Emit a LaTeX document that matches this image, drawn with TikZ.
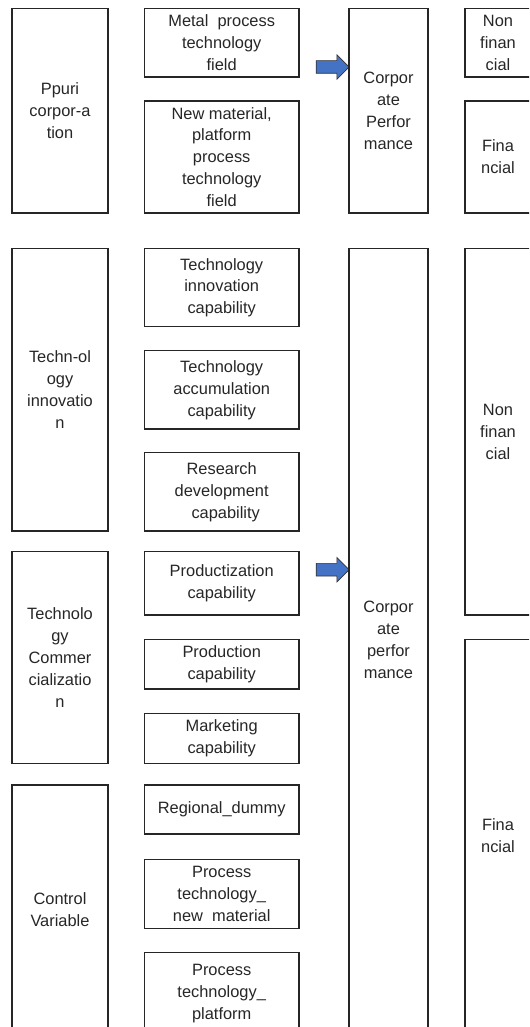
\documentclass[tikz,border=0pt]{standalone}
\usepackage{fontspec}
\setmainfont{Liberation Sans}
\usetikzlibrary{shapes.arrows}

\tikzset{
    box/.style={draw=black!85, line width=0.9pt, rectangle, align=center, inner sep=2pt,
        font=\fontsize{12.3}{16.4}\selectfont, text=black!85},
    lbox/.style={box, minimum width=72pt},
    mbox/.style={box, minimum width=115.9pt},
    cbox/.style={box, minimum width=59.25pt},
    rbox/.style={box, minimum width=49.5pt},
    blockarrow/.style={single arrow, draw=black!80, line width=0.5pt, fill=arrowblue,
        minimum height=24.75pt, single arrow head extend=4.5pt, inner sep=4.5pt}
}
\definecolor{arrowblue}{HTML}{4472C4}

\begin{document}
\begin{tikzpicture}[x=0.75pt, y=-0.75pt]
    \useasboundingbox (0,0) rectangle (529,1027);
    \clip (0,0) rectangle (529,1027);

    % Top block: the corporation
    \node[lbox, minimum height=153.5pt] (ppuri) at (60,110.7) {Ppuri\\corpor-a\\tion};
    \node[mbox, minimum height=51.5pt] (metal) at (221.7,42.7) {Metal\ \ process\\technology\\field};
    \node[mbox, minimum height=84pt] (newmat) at (221.7,157) {New material,\\platform\\process\\technology\\field};
    \node[blockarrow] (arr1) at (329.5,67) {};
    \node[cbox, minimum height=153.5pt] (corp1) at (388.5,110.7) {Corpor\\ate\\Perfor\\mance};
    \node[rbox, minimum height=51.5pt] (nonfin1) at (498,42.7) {Non\\finan\\cial};
    \node[rbox, minimum height=84pt] (fin1) at (498,157) {Fina\\ncial};

    % Left column: the groups
    \node[lbox, minimum height=211.8pt] (techinno) at (60,389.8) {Techn-ol\\ogy\\innovatio\\n};
    \node[lbox, minimum height=158.6pt] (techcomm) at (60,657.6) {Technolo\\gy\\Commer\\cializatio\\n};
    \node[lbox, minimum height=187.5pt] (control) at (60,910) {Control\\Variable};

    % Middle column: the capabilities
    \node[mbox, minimum height=58.7pt] (tic) at (221.7,287.7) {Technology\\innovation\\capability};
    \node[mbox, minimum height=58.7pt] (tac) at (221.7,389.9) {Technology\\accumulation\\capability};
    \node[mbox, minimum height=58.7pt] (rdc) at (221.7,491.9) {Research\\development\\\hspace*{6pt}capability};
    \node[mbox, minimum height=47.3pt] (prodz) at (221.7,583.4) {Productization\\capability};
    \node[mbox, minimum height=37.1pt] (prodn) at (221.7,664.3) {Production\\capability};
    \node[mbox, minimum height=37.1pt] (mkt) at (221.7,738.5) {Marketing\\capability};
    \node[mbox, minimum height=36.8pt] (regional) at (221.7,809.5) {Regional\_dummy};
    \node[mbox, minimum height=51.8pt] (ptnm) at (221.7,893.9) {Process\\technology\_\\new\ \ material};
    \node[mbox, minimum height=62pt] (ptp) at (221.7,993.9) {Process\\technology\_\\platform};

    % Right side: the performance
    \node[blockarrow] (arr2) at (329.5,569.7) {};
    \node[cbox, minimum height=586.8pt] (corp2) at (388.5,639.8) {Corpor\\ate\\perfor\\mance};
    \node[rbox, minimum height=274.7pt] (nonfin2) at (498,431.8) {Non\\finan\\cial};
    \node[rbox, minimum height=294.8pt] (fin2) at (498,836) {Fina\\ncial};
\end{tikzpicture}
\end{document}
